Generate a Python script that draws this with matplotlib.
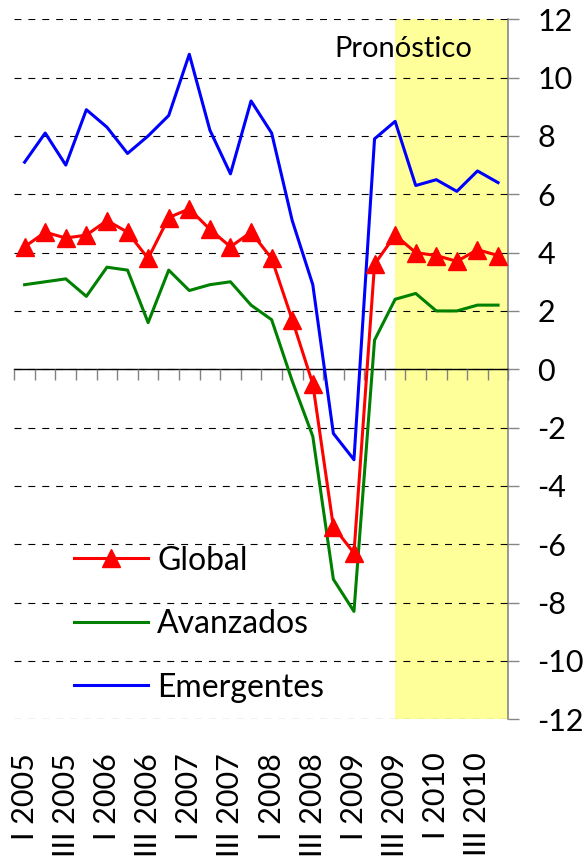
import matplotlib
matplotlib.use("Agg")
import matplotlib.pyplot as plt
import numpy as np

plt.rcParams["font.family"] = ["Lato", "DejaVu Sans"]
plt.rcParams["axes.unicode_minus"] = False
plt.rcParams["lines.scale_dashes"] = False

# quarterly growth, I 2005 .. IV 2010
quarters = []
for yr in range(2005, 2011):
    for q in ["I", "II", "III", "IV"]:
        quarters.append(f"{q} {yr}")

global_vals = [4.2, 4.7, 4.5, 4.6, 5.1, 4.7, 3.8, 5.2, 5.5, 4.8, 4.2, 4.7,
               3.8, 1.7, -0.5, -5.4, -6.3, 3.6, 4.6, 4.0, 3.9, 3.7, 4.1, 3.9]
avanzados = [2.9, 3.0, 3.1, 2.5, 3.5, 3.4, 1.6, 3.4, 2.7, 2.9, 3.0, 2.2,
             1.7, -0.4, -2.3, -7.2, -8.3, 1.0, 2.4, 2.6, 2.0, 2.0, 2.2, 2.2]
emergentes = [7.1, 8.1, 7.0, 8.9, 8.3, 7.4, 8.0, 8.7, 10.8, 8.2, 6.7, 9.2,
              8.1, 5.1, 2.9, -2.2, -3.1, 7.9, 8.5, 6.3, 6.5, 6.1, 6.8, 6.4]
forecast_start = "III 2009"
y_ticks = list(range(-12, 13, 2))

x = np.arange(len(quarters))
fc = quarters.index(forecast_start)

fig = plt.figure(figsize=(5.87, 8.6), dpi=100)
ax = fig.add_axes([0.0244, 0.1636, 0.8416, 0.814])

ax.axvspan(fc, len(quarters) - 0.5, color="#ffff99", zorder=0, lw=0)

ax.plot(x, avanzados, color="#008000", lw=2.2, label="Avanzados", zorder=3)
ax.plot(x, emergentes, color="#0000ff", lw=2.2, label="Emergentes", zorder=3)
ax.plot(x, global_vals, color="#ff0000", lw=2.2, marker="^", markersize=13.5,
        label="Global", zorder=4)

ax.set_xlim(-0.5, len(quarters) - 0.5)
ax.set_ylim(-12, 12)

# y axis on the right
ax.yaxis.tick_right()
ax.set_yticks(y_ticks)
ax.set_yticklabels([str(v) for v in y_ticks])
ax.tick_params(axis="y", direction="out", length=8, width=1, color="#868686",
               pad=13, labelsize=22)
ax.yaxis.grid(True, color="black", lw=0.8, linestyle=(0, (5, 5)), zorder=1)
ax.set_axisbelow(False)

for s in ["left", "top"]:
    ax.spines[s].set_visible(False)
ax.spines["right"].set_color("#868686")
ax.spines["right"].set_linewidth(1.2)
ax.spines["bottom"].set_position(("data", 0))
ax.spines["bottom"].set_linewidth(1.0)

# category boundary ticks on the zero line
ax.set_xticks(np.arange(-0.5, len(quarters), 1))
ax.set_xticklabels([])
ax.tick_params(axis="x", direction="out", length=8, width=1, color="#808080")

# labels at the bottom of the plot
sec = ax.secondary_xaxis(0.0)
sec.set_xticks(x[::2])
sec.set_xticklabels(quarters[::2], rotation=90, fontsize=22)
sec.tick_params(length=0, pad=24)
sec.spines["bottom"].set_visible(False)

ax.text(0.788, 0.946, "Pronóstico", transform=ax.transAxes, ha="center",
        va="baseline", fontsize=21)

h, l = ax.get_legend_handles_labels()
order = [2, 0, 1]
ax.legend([h[i] for i in order], [l[i] for i in order], loc="center left",
          bbox_to_anchor=(0.121, 0.136), frameon=False, fontsize=23,
          handlelength=2.3, handletextpad=0.3, labelspacing=1.05,
          borderpad=0, borderaxespad=0)

fig.savefig("out.png", dpi=100)
